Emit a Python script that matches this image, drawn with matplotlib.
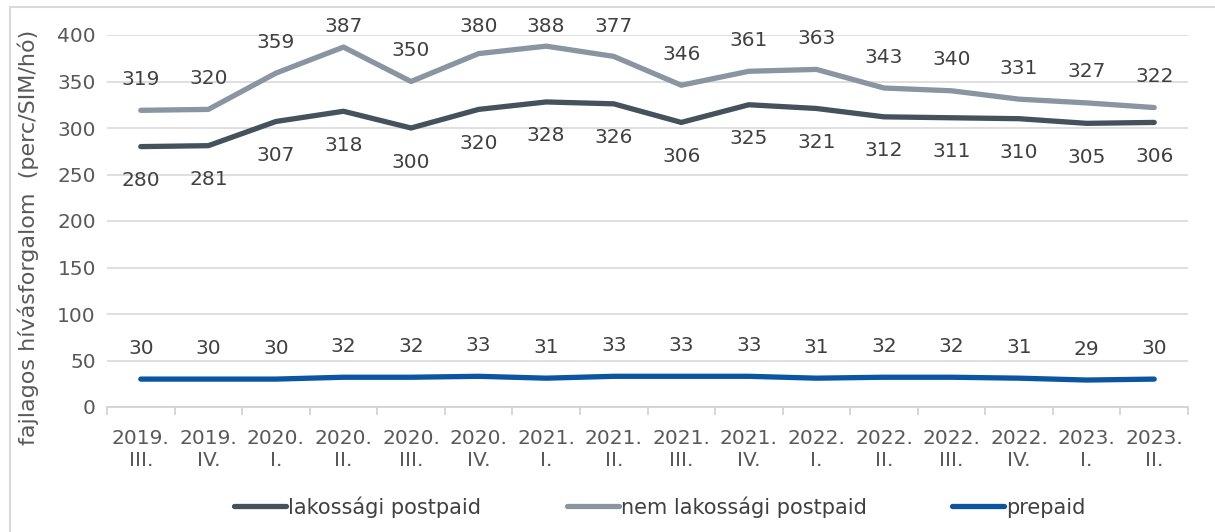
import numpy as np
import matplotlib
matplotlib.use("Agg")
import matplotlib.pyplot as plt
from matplotlib.patches import Rectangle

plt.rcParams['font.family'] = ['DejaVu Sans']

# data
periods = ["2019.\nIII.", "2019.\nIV.", "2020.\nI.", "2020.\nII.", "2020.\nIII.", "2020.\nIV.",
           "2021.\nI.", "2021.\nII.", "2021.\nIII.", "2021.\nIV.", "2022.\nI.", "2022.\nII.",
           "2022.\nIII.", "2022.\nIV.", "2023.\nI.", "2023.\nII."]
lakossagi = [280, 281, 307, 318, 300, 320, 328, 326, 306, 325, 321, 312, 311, 310, 305, 306]
nem_lakossagi = [319, 320, 359, 387, 350, 380, 388, 377, 346, 361, 363, 343, 340, 331, 327, 322]
prepaid = [30, 30, 30, 32, 32, 33, 31, 33, 33, 33, 31, 32, 32, 31, 29, 30]
series_names = ["lakossági postpaid", "nem lakossági postpaid", "prepaid"]

W, H = 1215, 532
fig = plt.figure(figsize=(W / 100, H / 100), dpi=100)
# outer chart frame
fig.patches.append(Rectangle((10 / W, -0.05), 1.1, 1 - 7 / H + 0.05, transform=fig.transFigure,
                             fill=False, edgecolor='#d9d9d9', linewidth=1.5))

ax = fig.add_axes([107 / W, 1 - 407 / H, (1188 - 107) / W, (407 - 35) / H])

x = np.arange(len(periods))
c_lak = '#44525b'
c_nem = '#8995a0'
c_pre = '#0b55a3'
txt = '#404040'
fs = 14.5

ax.plot(x, lakossagi, color=c_lak, lw=3.8, solid_capstyle='round', label=series_names[0], zorder=3)
ax.plot(x, nem_lakossagi, color=c_nem, lw=3.8, solid_capstyle='round', label=series_names[1], zorder=3)
ax.plot(x, prepaid, color=c_pre, lw=3.8, solid_capstyle='round', label=series_names[2], zorder=3)

ax.set_xlim(-0.5, len(periods) - 0.5)
ax.set_ylim(0, 400)


def put_labels(vals, dy, top_limit=None):
    # dy in pixels (positive = above); labels kept inside the chart area like Excel does
    for xi, v in zip(x, vals):
        px, py = ax.transData.transform((xi, v))
        ty = py + dy
        if top_limit is not None:
            ty = min(ty, H - top_limit)
        ax.annotate(str(v), (xi, v), xytext=(px, ty), textcoords='figure pixels',
                    ha='center', va='center', fontsize=fs, color=txt)


put_labels(lakossagi, -34)
put_labels(nem_lakossagi, 31, top_limit=27)
put_labels(prepaid, 31)

ax.set_yticks(np.arange(0, 401, 50))
ax.yaxis.grid(True, color='#d9d9d9', lw=1.2)
ax.set_axisbelow(True)
for s in ['top', 'right', 'left']:
    ax.spines[s].set_visible(False)
ax.spines['bottom'].set_color('#d0d0d0')
ax.spines['bottom'].set_linewidth(1.2)
ax.tick_params(axis='y', length=0, labelsize=fs, labelcolor='#595959', pad=8)

ax.set_xticks(x)
ax.set_xticklabels(periods)
ax.set_xticks(np.arange(-0.5, len(periods), 1), minor=True)
ax.tick_params(axis='x', which='major', length=0, labelsize=fs, labelcolor='#595959', pad=16)
ax.tick_params(axis='x', which='minor', length=6, color='#d0d0d0', width=1.2)
for lbl in ax.get_xticklabels():
    lbl.set_linespacing(1.2)

fig.text(28 / W, 1 - 237 / H, "fajlagos hívásforgalom  (perc/SIM/hó)", rotation=90,
         ha='center', va='center', fontsize=16, color='#595959')

fig.legend(loc='center', bbox_to_anchor=(0.543, 1 - 507 / H), ncol=3, frameon=False,
           fontsize=15, handlelength=2.5, handletextpad=0.1, columnspacing=4.1,
           labelcolor='#404040')

fig.savefig("out.png", dpi=100)
